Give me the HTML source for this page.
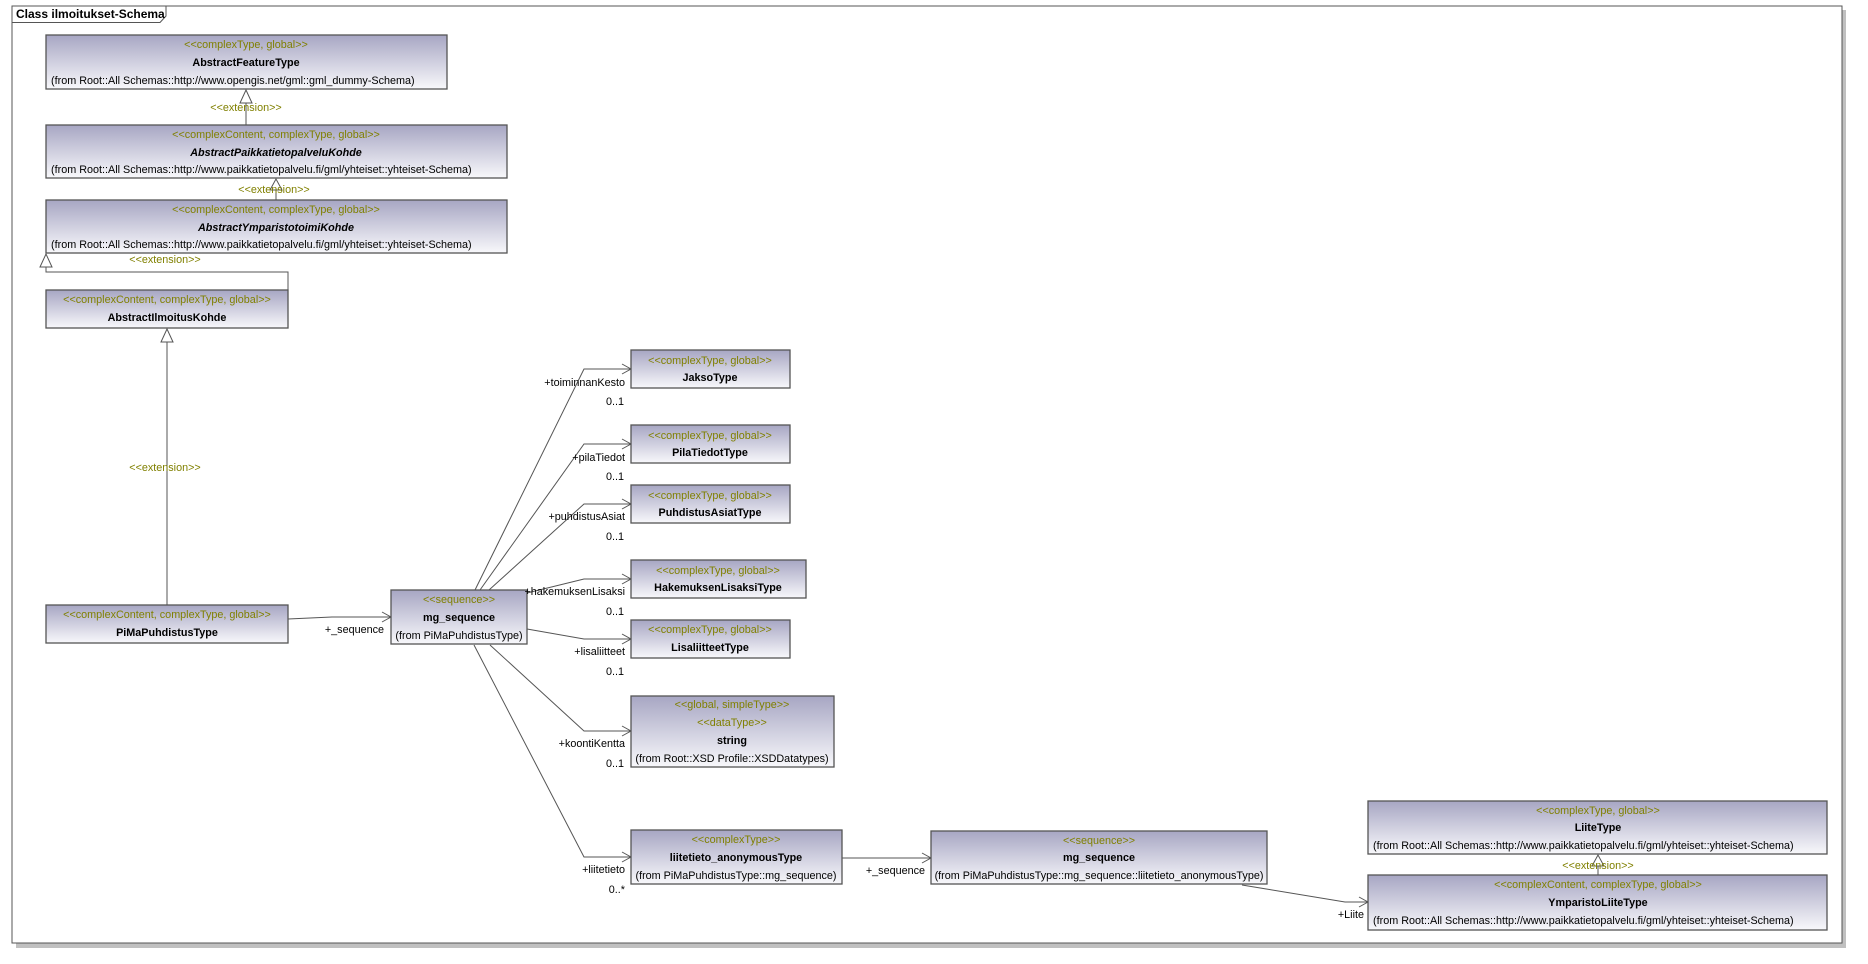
<!DOCTYPE html>
<html><head><meta charset="utf-8"><style>
html,body{margin:0;padding:0;background:#fff;}
svg{display:block;}
text{font-family:"Liberation Sans",Tahoma,sans-serif;font-size:10.8px;fill:#000;}
.st{fill:#808000;}
.nm{font-weight:bold;}
.it{font-weight:bold;font-style:italic;}
.bx{fill:url(#g);stroke:#555;stroke-width:1.3;}
.ln{fill:none;stroke:#555;stroke-width:1;}
.tri{fill:#fff;stroke:#555;stroke-width:1;}
</style></head><body>
<svg width="1868" height="964" viewBox="0 0 1868 964" xmlns="http://www.w3.org/2000/svg">
<defs><linearGradient id="g" x1="0" y1="0" x2="0" y2="1"><stop offset="0" stop-color="#a7a6c3"/><stop offset="1" stop-color="#f8f8fb"/></linearGradient></defs>
<rect x="16" y="10" width="1830" height="938" fill="#c0c0c0"/>
<rect x="12" y="6" width="1830" height="937" fill="#fff" stroke="#555" stroke-width="1"/>
<path d="M12.5 22.5 H160 L166 16 V6.5" class="ln"/>
<text x="16" y="18" style="font-size:12px;font-weight:bold">Class ilmoitukset-Schema</text>

<path d="M246 103 V125" class="ln"/><path d="M246 90 L240 103 H252 Z" class="tri"/>
<text x="246" y="111" text-anchor="middle" class="st">&lt;&lt;extension&gt;&gt;</text>
<path d="M276 190 V200" class="ln"/><path d="M276 179 L270 190 H282 Z" class="tri"/>
<text x="274" y="193" text-anchor="middle" class="st">&lt;&lt;extension&gt;&gt;</text>
<path d="M46 267 V272 H288 V290" class="ln"/><path d="M46 254 L40 267 H52 Z" class="tri"/>
<text x="165" y="263" text-anchor="middle" class="st">&lt;&lt;extension&gt;&gt;</text>
<path d="M167 342 V605" class="ln"/><path d="M167 329 L161 342 H173 Z" class="tri"/>
<text x="165" y="471" text-anchor="middle" class="st">&lt;&lt;extension&gt;&gt;</text>
<path d="M1598 866 V875" class="ln"/><path d="M1598 855 L1592 866 H1604 Z" class="tri"/>
<text x="1598" y="869" text-anchor="middle" class="st">&lt;&lt;extension&gt;&gt;</text>

<rect x="46" y="35" width="401" height="54" class="bx"/>
<text x="246" y="48" text-anchor="middle" class="st">&lt;&lt;complexType, global&gt;&gt;</text>
<text x="246" y="66" text-anchor="middle" class="nm">AbstractFeatureType</text>
<text x="51" y="84">(from Root::All Schemas::http://www.opengis.net/gml::gml_dummy-Schema)</text>

<rect x="46" y="125" width="461" height="53" class="bx"/>
<text x="276" y="138" text-anchor="middle" class="st">&lt;&lt;complexContent, complexType, global&gt;&gt;</text>
<text x="276" y="156" text-anchor="middle" class="it">AbstractPaikkatietopalveluKohde</text>
<text x="51" y="173">(from Root::All Schemas::http://www.paikkatietopalvelu.fi/gml/yhteiset::yhteiset-Schema)</text>

<rect x="46" y="200" width="461" height="53" class="bx"/>
<text x="276" y="213" text-anchor="middle" class="st">&lt;&lt;complexContent, complexType, global&gt;&gt;</text>
<text x="276" y="231" text-anchor="middle" class="it">AbstractYmparistotoimiKohde</text>
<text x="51" y="248">(from Root::All Schemas::http://www.paikkatietopalvelu.fi/gml/yhteiset::yhteiset-Schema)</text>

<rect x="46" y="290" width="242" height="38" class="bx"/>
<text x="167" y="303" text-anchor="middle" class="st">&lt;&lt;complexContent, complexType, global&gt;&gt;</text>
<text x="167" y="321" text-anchor="middle" class="nm">AbstractIlmoitusKohde</text>

<rect x="46" y="605" width="242" height="38" class="bx"/>
<text x="167" y="618" text-anchor="middle" class="st">&lt;&lt;complexContent, complexType, global&gt;&gt;</text>
<text x="167" y="636" text-anchor="middle" class="nm">PiMaPuhdistusType</text>

<path d="M288 619 L332 617 H391 M382 612 L391 617 L382 622" class="ln"/>
<text x="384" y="633" text-anchor="end">+_sequence</text>

<rect x="391" y="590" width="136" height="54" class="bx"/>
<text x="459" y="603" text-anchor="middle" class="st">&lt;&lt;sequence&gt;&gt;</text>
<text x="459" y="621" text-anchor="middle" class="nm">mg_sequence</text>
<text x="459" y="639" text-anchor="middle">(from PiMaPuhdistusType)</text>

<path d="M475 590 L584 369 H631 M622 364 L631 369 L622 374" class="ln"/>
<path d="M480 590 L584 444 H631 M622 439 L631 444 L622 449" class="ln"/>
<path d="M489 590 L584 504 H631 M622 499 L631 504 L622 509" class="ln"/>
<path d="M527 593 L584 579 H631 M622 574 L631 579 L622 584" class="ln"/>
<path d="M527 629 L584 639 H631 M622 634 L631 639 L622 644" class="ln"/>
<path d="M490 645 L584 731 H631 M622 726 L631 731 L622 736" class="ln"/>
<path d="M474 645 L584 857 H631 M622 852 L631 857 L622 862" class="ln"/>

<g text-anchor="end">
<text x="625" y="386">+toiminnanKesto</text><text x="624" y="405">0..1</text>
<text x="625" y="461">+pilaTiedot</text><text x="624" y="480">0..1</text>
<text x="625" y="520">+puhdistusAsiat</text><text x="624" y="540">0..1</text>
<text x="625" y="595">+hakemuksenLisaksi</text><text x="624" y="615">0..1</text>
<text x="625" y="655">+lisaliitteet</text><text x="624" y="675">0..1</text>
<text x="625" y="747">+koontiKentta</text><text x="624" y="767">0..1</text>
<text x="625" y="873">+liitetieto</text><text x="625" y="893">0..*</text>
</g>

<rect x="631" y="350" width="159" height="38" class="bx"/>
<text x="710" y="364" text-anchor="middle" class="st">&lt;&lt;complexType, global&gt;&gt;</text>
<text x="710" y="381" text-anchor="middle" class="nm">JaksoType</text>

<rect x="631" y="425" width="159" height="38" class="bx"/>
<text x="710" y="439" text-anchor="middle" class="st">&lt;&lt;complexType, global&gt;&gt;</text>
<text x="710" y="456" text-anchor="middle" class="nm">PilaTiedotType</text>

<rect x="631" y="485" width="159" height="38" class="bx"/>
<text x="710" y="499" text-anchor="middle" class="st">&lt;&lt;complexType, global&gt;&gt;</text>
<text x="710" y="516" text-anchor="middle" class="nm">PuhdistusAsiatType</text>

<rect x="631" y="560" width="175" height="38" class="bx"/>
<text x="718" y="574" text-anchor="middle" class="st">&lt;&lt;complexType, global&gt;&gt;</text>
<text x="718" y="591" text-anchor="middle" class="nm">HakemuksenLisaksiType</text>

<rect x="631" y="620" width="159" height="38" class="bx"/>
<text x="710" y="633" text-anchor="middle" class="st">&lt;&lt;complexType, global&gt;&gt;</text>
<text x="710" y="651" text-anchor="middle" class="nm">LisaliitteetType</text>

<rect x="631" y="696" width="203" height="71" class="bx"/>
<text x="732" y="708" text-anchor="middle" class="st">&lt;&lt;global, simpleType&gt;&gt;</text>
<text x="732" y="726" text-anchor="middle" class="st">&lt;&lt;dataType&gt;&gt;</text>
<text x="732" y="744" text-anchor="middle" class="nm">string</text>
<text x="732" y="762" text-anchor="middle">(from Root::XSD Profile::XSDDatatypes)</text>

<rect x="631" y="830" width="211" height="54" class="bx"/>
<text x="736" y="843" text-anchor="middle" class="st">&lt;&lt;complexType&gt;&gt;</text>
<text x="736" y="861" text-anchor="middle" class="nm">liitetieto_anonymousType</text>
<text x="736" y="879" text-anchor="middle">(from PiMaPuhdistusType::mg_sequence)</text>

<path d="M842 858 H931 M922 853 L931 858 L922 863" class="ln"/>
<text x="925" y="874" text-anchor="end">+_sequence</text>

<rect x="931" y="831" width="336" height="53" class="bx"/>
<text x="1099" y="844" text-anchor="middle" class="st">&lt;&lt;sequence&gt;&gt;</text>
<text x="1099" y="861" text-anchor="middle" class="nm">mg_sequence</text>
<text x="1099" y="879" text-anchor="middle">(from PiMaPuhdistusType::mg_sequence::liitetieto_anonymousType)</text>

<path d="M1242 885 L1345 902 H1368 M1359 897 L1368 902 L1359 907" class="ln"/>
<text x="1364" y="918" text-anchor="end">+Liite</text>

<rect x="1368" y="801" width="459" height="53" class="bx"/>
<text x="1598" y="814" text-anchor="middle" class="st">&lt;&lt;complexType, global&gt;&gt;</text>
<text x="1598" y="831" text-anchor="middle" class="nm">LiiteType</text>
<text x="1373" y="849">(from Root::All Schemas::http://www.paikkatietopalvelu.fi/gml/yhteiset::yhteiset-Schema)</text>

<rect x="1368" y="875" width="459" height="55" class="bx"/>
<text x="1598" y="888" text-anchor="middle" class="st">&lt;&lt;complexContent, complexType, global&gt;&gt;</text>
<text x="1598" y="906" text-anchor="middle" class="nm">YmparistoLiiteType</text>
<text x="1373" y="924">(from Root::All Schemas::http://www.paikkatietopalvelu.fi/gml/yhteiset::yhteiset-Schema)</text>
</svg>
</body></html>
